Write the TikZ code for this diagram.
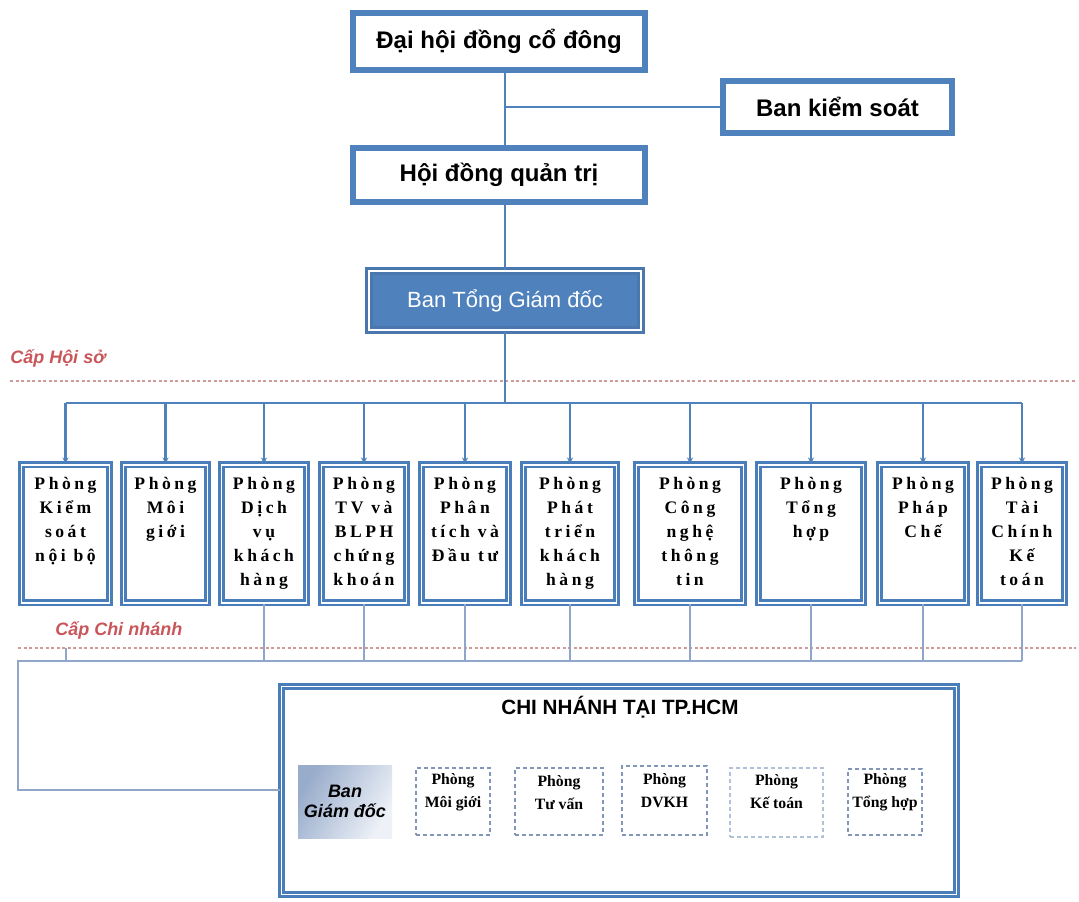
\documentclass[tikz,border=0pt]{standalone}
\usepackage{fontspec}
\setmainfont{Liberation Serif}
\newfontfamily\sansf{Liberation Sans}
\newfontfamily\deptf[LetterSpace=20]{Liberation Serif}
\usetikzlibrary{arrows.meta}
\newdimen\px \px=0.75pt
\definecolor{mblue}{HTML}{4F81BD}
\definecolor{dblue}{HTML}{4A7EBB}
\definecolor{lblue}{HTML}{8FA6C8}
\definecolor{capred}{HTML}{C8565A}
\definecolor{dotred}{HTML}{CF9A9A}
\definecolor{dashgray}{HTML}{8196B8}
\definecolor{gdA}{HTML}{98ACCB}
\definecolor{gdB}{HTML}{EEF2F8}
\newcommand\dept[4]{\node[deptbox, minimum width=#3\px-7\px] (#1) at (#2,463.5)
  {\parbox[c][114\px][t]{\dimexpr#3\px-7\px\relax}{\centering #4}};}
\begin{document}
\begin{tikzpicture}[x=0.75pt,y=-0.75pt,
  topbox/.style={draw=mblue, line width=6\px, fill=white, inner sep=0pt,
    font=\sansf\bfseries\fontsize{18}{22}\selectfont},
  gtdbox/.style={fill=mblue, draw=mblue!92!black, line width=3\px, double=white,
    double distance=2\px, inner sep=0pt, text=white,
    font=\sansf\fontsize{16.5}{20}\selectfont},
  deptbox/.style={draw=dblue, line width=2.8\px, double=white, double distance=1.4\px,
    fill=white, anchor=north, inner sep=0pt, minimum height=138\px,
    font=\deptf\bfseries\fontsize{13.2}{18}\selectfont},
  brbox/.style={draw=dblue, line width=2.6\px, double=white, double distance=1.6\px,
    fill=white, inner sep=0pt},
  dashbox/.style={draw=dashgray, line width=1.5\px, dash pattern=on 4\px off 3\px,
    inner sep=0pt},
  brtext/.style={font=\bfseries\fontsize{11.8}{17}\selectfont, align=center},
  topline/.style={draw=mblue, line width=2\px},
  busline/.style={draw=mblue, line width=2.8\px},
  arr/.style={-{Stealth[length=4.5pt,width=4.5pt]}},
  thinline/.style={draw=lblue, line width=1.3\px},
  redline/.style={draw=dotred, line width=1.5\px, dash pattern=on 3\px off 2.5\px},
  levellabel/.style={text=capred, font=\sansf\bfseries\itshape\fontsize{13.5}{16}\selectfont,
    inner sep=0pt, anchor=west}
]
\useasboundingbox (0,0) rectangle (1079,901);

% top boxes
\node[topbox, minimum width=292\px, minimum height=57\px] (dhd) at (499,41.5) {Đại hội đồng cổ đông};
\node[topbox, minimum width=229\px, minimum height=52\px] (bks) at (837.5,106.5) {Ban kiểm soát};
\node[topbox, minimum width=292\px, minimum height=54\px] (hdqt) at (499,175) {Hội đồng quản trị};
\node[gtdbox, minimum width=272\px, minimum height=59\px] (btgd) at (505,300.5) {Ban Tổng Giám đốc};

\coordinate (spine) at (505,0);
\coordinate (j1) at (spine |- bks.west);
\draw[topline] (dhd.south -| spine) -- (hdqt.north -| spine);
\draw[topline] (j1) -- (bks.west);
\draw[topline] (hdqt.south -| spine) -- (btgd.north);

% level labels and dotted lines
\node[levellabel] (caphs) at (10,358) {Cấp Hội sở};
\coordinate (hs1) at (10,381);
\coordinate (hs2) at (1076,381);
\draw[redline] (hs1) -- (hs2);
\node[levellabel] (capcn) at (55,630) {Cấp Chi nhánh};
\coordinate (cn1) at (18,648);
\coordinate (cn2) at (1076,648);
\draw[redline] (cn1) -- (cn2);

% departments
\dept{d1}{65.5}{95}{Phòng\\Kiểm\\soát\\nội bộ}
\dept{d2}{165.5}{91}{Phòng\\Môi\\giới}
\dept{d3}{264}{92}{Phòng\\Dịch\\vụ\\khách\\hàng}
\dept{d4}{364}{92}{Phòng\\TV và\\BLPH\\chứng\\khoán}
\dept{d5}{465}{94}{Phòng\\Phân\\tích và\\Đầu tư}
\dept{d6}{570}{100}{Phòng\\Phát\\triển\\khách\\hàng}
\dept{d7}{690}{114}{Phòng\\Công\\nghệ\\thông\\tin}
\dept{d8}{811}{112}{Phòng\\Tổng\\hợp}
\dept{d9}{923}{94}{Phòng\\Pháp\\Chế}
\dept{d10}{1022}{92}{Phòng\\Tài\\Chính\\Kế\\toán}

\coordinate (busy) at (0,403);
\draw[busline] (btgd.south) -- (btgd.south |- busy);
\draw[busline] (d1.north |- busy) -- (d10.north |- busy);
\foreach \d in {d1,d2,d3,d4,d5,d6,d7,d8,d9,d10}
  \draw[busline, arr] (\d.north |- busy) -- (\d.north);

% branch box
\node[brbox, minimum width=675\px, minimum height=208\px] (br) at (619,790.5) {};

% branch level connectors
\coordinate (bry) at (0,661);
\coordinate (lowy) at (0,790);
\coordinate (lft) at (18,0);
\coordinate (tk) at (66,648);
\foreach \d in {d3,d4,d5,d6,d7,d8,d9,d10}
  \draw[thinline] (\d.south) -- (\d.south |- bry);
\draw[thinline] (d10.south |- bry) -- (lft |- bry) -- (lft |- lowy) -- (br.west |- lowy);
\draw[thinline] (tk) -- (tk |- bry);

\node[font=\sansf\bfseries\fontsize{15.5}{18}\selectfont, inner sep=0pt] (brt) at (620,707) {CHI NHÁNH TẠI TP.HCM};
\node[left color=gdA, right color=gdB, shading angle=60, minimum width=94\px, minimum height=73\px,
  inner sep=0pt, align=center, font=\sansf\bfseries\itshape\fontsize{13.5}{15}\selectfont] (bgd) at (345,801.5) {Ban\\Giám đốc};
\node[dashbox, minimum width=74\px, minimum height=67\px,
  label={[brtext, name=tmg, yshift=9\px]center:Phòng\\Môi giới}] (mg) at (453,801.5) {};
\node[dashbox, minimum width=88\px, minimum height=67\px,
  label={[brtext, name=ttv, yshift=9\px]center:Phòng\\Tư vấn}] (tv) at (559,801.5) {};
\node[dashbox, minimum width=85\px, minimum height=69\px,
  label={[brtext, name=tdv, yshift=10\px]center:Phòng\\DVKH}] (dv) at (664.5,800.5) {};
\node[dashbox, draw=lblue!70, minimum width=93\px, minimum height=69\px,
  label={[brtext, name=tkt, yshift=11\px]center:Phòng\\Kế toán}] (kt) at (776.5,802.5) {};
\node[dashbox, minimum width=74\px, minimum height=66\px,
  label={[brtext, name=tth, yshift=10\px]center:Phòng\\Tổng hợp}] (th) at (885,802) {};
\end{tikzpicture}
\end{document}
